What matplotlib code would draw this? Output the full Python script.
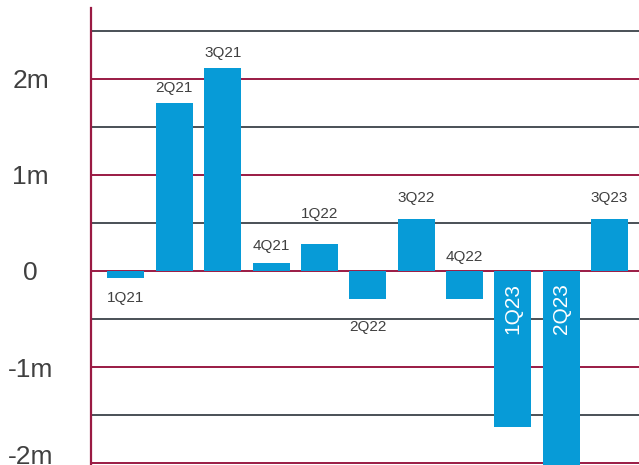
import matplotlib.pyplot as plt
import matplotlib.transforms as mtransforms
from matplotlib.ticker import FixedLocator

plt.rcParams["font.family"] = ["Liberation Sans", "DejaVu Sans"]

# Quarterly change, in millions
quarters = ["1Q21", "2Q21", "3Q21", "4Q21", "1Q22", "2Q22",
            "3Q22", "4Q22", "1Q23", "2Q23", "3Q23"]
change_m = [-0.07, 1.75, 2.11, 0.08, 0.28, -0.29,
            0.54, -0.29, -1.62, -2.05, 0.54]

tick_values = [2, 1, 0, -1, -2]
tick_labels = ["2m", "1m", "0", "-1m", "-2m"]

BAR = "#079bd7"
MAROON = "#9a1a43"
GREY_LINE = "#4a5056"
TEXT = "#404040"

# how each quarter label sits: (mode, gap in pixels)
label_style = {
    "1Q21": ("below", 13), "2Q21": ("above", 11), "3Q21": ("above", 11),
    "4Q21": ("above", 13), "1Q22": ("above", 26), "2Q22": ("below", 21),
    "3Q22": ("above", 17), "4Q22": ("zero", 10), "1Q23": ("inside", 12),
    "2Q23": ("inside", 12), "3Q23": ("above", 17),
}

fig = plt.figure(figsize=(6.39, 4.65), dpi=100)
ax = fig.add_axes([91 / 639, 0, 1 - 91 / 639, 1 - 8 / 465])

x = list(range(len(quarters)))
ax.bar(x, change_m, width=0.765, color=BAR, zorder=3)

ax.set_xlim(-0.723, 10.61)
ax.set_ylim(-194 / 96, 263 / 96)

ax.yaxis.set_major_locator(FixedLocator(tick_values))
ax.yaxis.set_minor_locator(FixedLocator([-1.5, -0.5, 0.5, 1.5, 2.5]))
ax.set_yticklabels(tick_labels, fontsize=19, color=TEXT, ha="center")
ax.tick_params(axis="y", which="both", length=0, pad=43.5)
ax.set_xticks([])

# lift the bottom label so it stays on the canvas
bottom_label = ax.yaxis.get_major_ticks()[-1].label1
bottom_label.set_transform(bottom_label.get_transform() + mtransforms.ScaledTranslation(0, 8.5 / 100, fig.dpi_scale_trans))

ax.grid(axis="y", which="major", color=MAROON, lw=1.4, zorder=1)
ax.grid(axis="y", which="minor", color=GREY_LINE, lw=1.4, zorder=1)
ax.set_axisbelow(True)

for side in ["top", "right", "bottom"]:
    ax.spines[side].set_visible(False)
ax.spines["left"].set_color(MAROON)
ax.spines["left"].set_linewidth(1.6)

for i, (q, v) in enumerate(zip(quarters, change_m)):
    mode, gap = label_style[q]
    if mode == "above":
        ax.annotate(q, (i, v), xytext=(0, gap), textcoords="offset pixels",
                    ha="center", va="baseline", fontsize=11, color=TEXT)
    elif mode == "below":
        ax.annotate(q, (i, v), xytext=(0, -gap), textcoords="offset pixels",
                    ha="center", va="top", fontsize=11, color=TEXT)
    elif mode == "zero":
        ax.annotate(q, (i, 0), xytext=(0, gap), textcoords="offset pixels",
                    ha="center", va="baseline", fontsize=11, color=TEXT)
    else:
        ax.annotate(q, (i, 0), xytext=(0, -gap), textcoords="offset pixels",
                    ha="center", va="top", rotation=90, fontsize=15,
                    color="white", zorder=4)

fig.savefig("out.png", dpi=100)
